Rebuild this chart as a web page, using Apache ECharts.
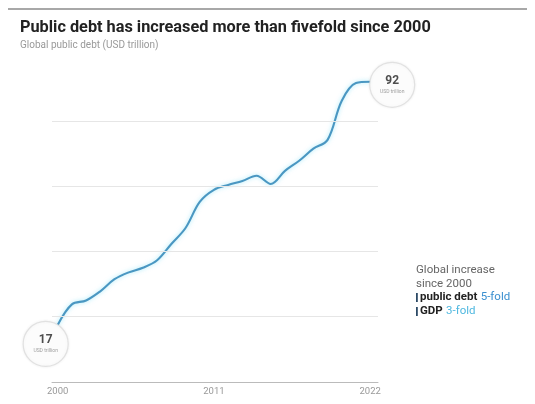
<!DOCTYPE html>
<html>
<head>
<meta charset="utf-8">
<script src="https://cdn.jsdelivr.net/npm/echarts@6/dist/echarts.min.js"></script>
<style>
html,body{margin:0;padding:0;background:#fff;}
#c{width:535px;height:404px;}
</style>
</head>
<body>
<div id="c"></div>
<script>
const years = [2000,2001,2002,2003,2004,2005,2006,2007,2008,2009,2010,2011,2012,2013,2014,2015,2016,2017,2018,2019,2020,2021,2022];
const publicDebt = [17.5,23.8,25,27.8,31.5,33.6,35,37.3,42.3,47.2,55.2,58.9,60.4,61.6,63.2,60.7,64.7,67.8,71.5,74.2,86.2,91.6,92];
const xTickLabels = [2000,2011,2022];
const yGridValues = [20,40,60,80];
const startLabel = {year: 2000, value: 17.5, text: '17', unit: 'USD trillion'};
const endLabel = {year: 2022, value: 92, text: '92', unit: 'USD trillion'};

const FONT = 'Roboto, "Noto Sans", sans-serif';
const chart = echarts.init(document.getElementById('c'), null, {renderer: 'canvas'});

const lineData = years.map((y, i) => [y, publicDebt[i]]);

chart.setOption({
  animation: false,
  backgroundColor: '#fff',
  textStyle: {fontFamily: FONT},
  grid: {left: 52, right: 157, top: 72, bottom: 22, containLabel: false},
  xAxis: {
    type: 'value',
    min: 1999.6,
    max: 2022.55,
    splitLine: {show: false},
    axisLine: {show: true, lineStyle: {color: '#bbb', width: 1}},
    axisTick: {show: false},
    axisLabel: {
      customValues: xTickLabels,
      color: '#999',
      fontSize: 9.5,
      margin: 5,
      formatter: v => String(v)
    }
  },
  yAxis: {
    type: 'value',
    min: 0,
    max: 95,
    axisLine: {show: false},
    axisTick: {show: false},
    axisLabel: {show: false},
    splitLine: {show: false}
  },
  series: [
    {
      type: 'line',
      data: lineData,
      smooth: 0.35,
      symbol: 'none',
      lineStyle: {color: '#4a97c2', width: 2.1, shadowColor: 'rgba(90,215,245,0.55)', shadowBlur: 4},
      markLine: {
        silent: true,
        symbol: 'none',
        label: {show: false},
        lineStyle: {color: '#e6e6e6', width: 1.2, type: 'solid'},
        data: yGridValues.map(v => ({yAxis: v}))
      },
      z: 2
    },
    {
      type: 'scatter',
      z: 5,
      data: [
        {value: [startLabel.year, startLabel.value], symbolOffset: [-12, 19], name: startLabel.text, unit: startLabel.unit},
        {value: [endLabel.year, endLabel.value], symbolOffset: [22, 3], name: endLabel.text, unit: endLabel.unit}
      ],
      symbol: 'circle',
      symbolSize: 45,
      itemStyle: {color: '#fff', borderColor: '#dcdcdc', borderWidth: 1.2, shadowColor: 'rgba(0,0,0,0.08)', shadowBlur: 3},
      label: {
        show: true,
        position: 'inside',
        formatter: p => '{n|' + p.name + '}\n{u|' + p.data.unit + '}',
        rich: {
          n: {fontSize: 12, fontWeight: 'bold', color: '#222', lineHeight: 13, fontFamily: FONT},
          u: {fontSize: 5, color: '#888', lineHeight: 7, fontFamily: FONT}
        }
      }
    }
  ],
  graphic: [
    {type: 'rect', shape: {x: 8, y: 8, width: 519, height: 2}, style: {fill: '#a8a8a8'}},
    {type: 'text', left: 20, top: 20, style: {text: 'Public debt has increased more than fivefold since 2000', font: 'bold 16.3px ' + FONT, fill: '#222'}},
    {type: 'text', left: 20, top: 40, style: {text: 'Global public debt (USD trillion)', font: '10px ' + FONT, fill: '#999'}},
    {type: 'text', left: 416, top: 263, style: {text: 'Global increase\nsince 2000', font: '11.5px ' + FONT, fill: '#666', lineHeight: 14}},
    {type: 'rect', shape: {x: 416, y: 293, width: 1.8, height: 9}, style: {fill: '#2c4a66'}},
    {type: 'text', left: 420, top: 291, style: {
      text: '{b|public debt} {c|5-fold}',
      rich: {
        b: {font: 'bold 11.5px ' + FONT, fill: '#222'},
        c: {font: '11.5px ' + FONT, fill: '#3a8fcf'}
      }
    }},
    {type: 'rect', shape: {x: 416, y: 307, width: 1.8, height: 9}, style: {fill: '#2c4a66'}},
    {type: 'text', left: 420, top: 305, style: {
      text: '{b|GDP} {c|3-fold}',
      rich: {
        b: {font: 'bold 11.5px ' + FONT, fill: '#222'},
        c: {font: '11.5px ' + FONT, fill: '#4fb8e0'}
      }
    }}
  ]
});
</script>
</body>
</html>
